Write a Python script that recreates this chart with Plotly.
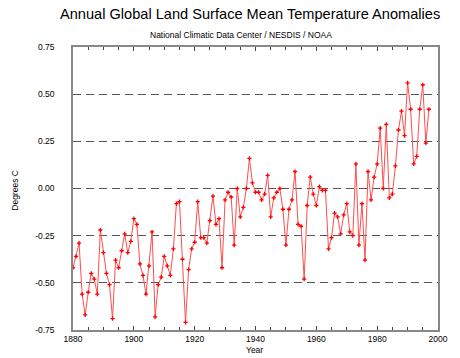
import plotly.graph_objects as go

# Annual global land surface mean temperature anomalies (deg C)
years = list(range(1880, 1998))
anomalies = [
    -0.42, -0.36, -0.29, -0.56, -0.67, -0.55, -0.45, -0.48, -0.56, -0.22,
    -0.34, -0.45, -0.51, -0.69, -0.38, -0.42, -0.33, -0.24, -0.34, -0.28,
    -0.16, -0.19, -0.40, -0.46, -0.56, -0.41, -0.23, -0.68, -0.51, -0.47,
    -0.36, -0.41, -0.46, -0.32, -0.08, -0.07, -0.375, -0.71, -0.43, -0.32,
    -0.285, -0.07, -0.26, -0.26, -0.29, -0.17, -0.04, -0.19, -0.16, -0.42,
    -0.06, -0.02, -0.045, -0.30, 0.00, -0.15, -0.10, 0.00, 0.16, 0.03,
    -0.02, -0.02, -0.06, -0.03, 0.07, -0.15, -0.05, -0.02, 0.00, -0.11,
    -0.30, -0.11, -0.06, 0.09, -0.19, -0.20, -0.48, -0.09, 0.06, -0.03,
    -0.09, 0.01, -0.01, -0.01, -0.32, -0.26, -0.13, -0.15, -0.24, -0.14,
    -0.08, -0.23, -0.25, 0.13, -0.30, -0.08, -0.38, 0.09, -0.06, 0.06,
    0.13, 0.32, 0.00, 0.34, -0.05, -0.03, 0.12, 0.31, 0.41, 0.28,
    0.56, 0.42, 0.13, 0.17, 0.42, 0.55, 0.24, 0.42,
]

y_ticks = [-0.75, -0.50, -0.25, 0.00, 0.25, 0.50, 0.75]
y_tick_text = ["-0.75", "-0.50", "-0.25", "0.00", "0.25", "0.50", "0.75"]
x_ticks = [1880, 1900, 1920, 1940, 1960, 1980, 2000]

font_family = "Liberation Sans, Arial, sans-serif"

ML, MR, MT, MB = 73, 18, 47, 28
W, H = 460, 358

fig = go.Figure()

fig.add_trace(go.Scatter(
    x=years,
    y=anomalies,
    mode="lines+markers",
    line=dict(color="#ff4d4d", width=1),
    marker=dict(symbol="cross-thin", size=3, color="#ff0000",
                line=dict(color="#ff0000", width=1.3)),
    showlegend=False,
))


def page_text(text, px, py, size, angle=0):
    """Text annotation positioned by page pixel coordinates."""
    plot_w = W - ML - MR
    plot_h = H - MT - MB
    return dict(text=text, textangle=angle, showarrow=False,
                xref="paper", yref="paper",
                x=(px - ML) / plot_w, y=1 - (py - MT) / plot_h,
                xanchor="center", yanchor="middle",
                font=dict(size=size, family=font_family, color="black"))


fig.update_layout(
    width=W,
    height=H,
    margin=dict(l=ML, r=MR, t=MT, b=MB),
    paper_bgcolor="white",
    plot_bgcolor="white",
    font=dict(family=font_family, color="black", size=8.5),
    annotations=[
        page_text("Annual Global Land Surface Mean Temperature Anomalies",
                  252, 14, 14.6),
        page_text("National Climatic Data Center / NESDIS / NOAA", 243, 35, 8.5),
        page_text("Degrees C", 14, 190, 8.5, angle=-90),
        page_text("Year", 256, 350, 8.5),
    ],
)

fig.update_xaxes(
    range=[1880, 2000],
    tickvals=x_ticks,
    ticks="inside",
    ticklen=4,
    tickcolor="#444",
    minor=dict(dtick=5, tick0=1880, ticks="inside", ticklen=3, tickcolor="#444"),
    showline=True,
    linecolor="#888",
    linewidth=1.5,
    mirror="ticks",
    showgrid=False,
    zeroline=False,
    tickfont=dict(size=8.5),
)

fig.update_yaxes(
    range=[-0.75, 0.75],
    tickvals=y_ticks,
    ticktext=y_tick_text,
    ticks="",
    ticklabelstandoff=15,
    showline=True,
    linecolor="#888",
    linewidth=1.5,
    mirror=True,
    showgrid=True,
    gridcolor="#555",
    griddash="8px,5px",
    gridwidth=1.3,
    zeroline=False,
    tickfont=dict(size=8.5),
)

fig.write_html("out.html")
